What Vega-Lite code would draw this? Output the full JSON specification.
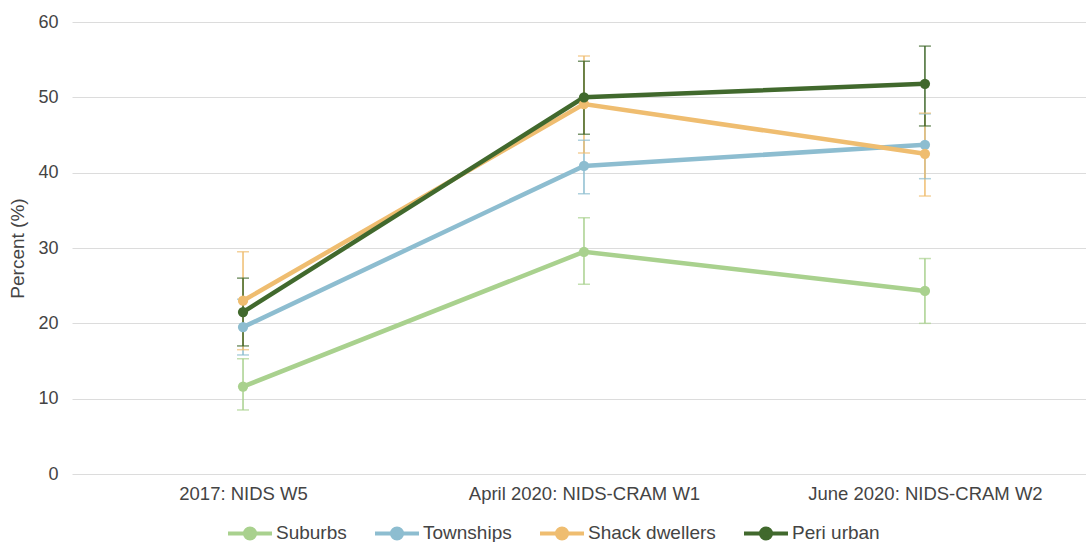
{
  "$schema": "https://vega.github.io/schema/vega-lite/v6.json",
  "width": 1014,
  "height": 452,
  "autosize": {"type": "none"},
  "padding": {"left": 72, "top": 22, "right": 0, "bottom": 68},
  "background": "white",
  "config": {
    "font": "Liberation Sans",
    "view": {"stroke": null},
    "axis": {"labelColor": "#444", "titleColor": "#444", "labelFont": "Liberation Sans", "titleFont": "Liberation Sans"}
  },
  "data": {
    "values": [
      {"wave": "2017: NIDS W5", "group": "Suburbs", "value": 11.6, "lo": 8.5, "hi": 15.3},
      {"wave": "April 2020: NIDS-CRAM W1", "group": "Suburbs", "value": 29.5, "lo": 25.2, "hi": 34.0},
      {"wave": "June 2020: NIDS-CRAM W2", "group": "Suburbs", "value": 24.3, "lo": 20.0, "hi": 28.6},
      {"wave": "2017: NIDS W5", "group": "Townships", "value": 19.5, "lo": 15.8, "hi": 23.2},
      {"wave": "April 2020: NIDS-CRAM W1", "group": "Townships", "value": 40.9, "lo": 37.2, "hi": 44.3},
      {"wave": "June 2020: NIDS-CRAM W2", "group": "Townships", "value": 43.7, "lo": 39.2, "hi": 47.8},
      {"wave": "2017: NIDS W5", "group": "Shack dwellers", "value": 23.0, "lo": 16.5, "hi": 29.5},
      {"wave": "April 2020: NIDS-CRAM W1", "group": "Shack dwellers", "value": 49.1, "lo": 42.6, "hi": 55.5},
      {"wave": "June 2020: NIDS-CRAM W2", "group": "Shack dwellers", "value": 42.5, "lo": 36.9, "hi": 47.9},
      {"wave": "2017: NIDS W5", "group": "Peri urban", "value": 21.5, "lo": 17.0, "hi": 26.0},
      {"wave": "April 2020: NIDS-CRAM W1", "group": "Peri urban", "value": 50.0, "lo": 45.1, "hi": 54.8},
      {"wave": "June 2020: NIDS-CRAM W2", "group": "Peri urban", "value": 51.8, "lo": 46.2, "hi": 56.8}
    ]
  },
  "encoding": {
    "x": {
      "field": "wave", "type": "ordinal", "sort": null,
      "scale": {"type": "point", "padding": 0.487, "align": 0.515},
      "axis": {"title": null, "labelAngle": 0, "labelFontSize": 18.5, "labelLimit": 400, "ticks": false, "domain": false, "labelPadding": 10, "grid": false}
    },
    "color": {
      "field": "group", "type": "nominal",
      "scale": {"domain": ["Suburbs", "Townships", "Shack dwellers", "Peri urban"], "range": ["#a9d18e", "#8dbdd0", "#efbd70", "#41692d"]},
      "legend": {
        "orient": "none", "direction": "horizontal", "legendX": 154, "legendY": 487,
        "title": null, "labelFontSize": 19, "labelColor": "#444", "labelOffset": 2, "labelLimit": 300,
        "symbolType": "M -1 0 L 1 0 M 0.23 0 A 0.23 0.23 0 1 1 -0.23 0 A 0.23 0.23 0 1 1 0.23 0 Z",
        "symbolSize": 1936, "symbolStrokeWidth": 4, "columnPadding": 20,
        "encode": {"symbols": {"update": {"fill": {"scale": "color", "field": "value"}, "stroke": {"scale": "color", "field": "value"}, "opacity": {"value": 1}}}}
      }
    }
  },
  "layer": [
    {
      "mark": {"type": "rule", "strokeWidth": 1.5},
      "encoding": {
        "y": {"field": "lo", "type": "quantitative"},
        "y2": {"field": "hi"}
      }
    },
    {
      "mark": {"type": "tick", "orient": "horizontal", "size": 12, "thickness": 1.5},
      "encoding": {"y": {"field": "lo", "type": "quantitative"}}
    },
    {
      "mark": {"type": "tick", "orient": "horizontal", "size": 12, "thickness": 1.5},
      "encoding": {"y": {"field": "hi", "type": "quantitative"}}
    },
    {
      "mark": {"type": "line", "strokeWidth": 4.5},
      "encoding": {
        "y": {
          "field": "value", "type": "quantitative",
          "scale": {"domain": [0, 60]},
          "axis": {"title": "Percent (%)", "titleFontSize": 19, "titleFontWeight": "normal", "titlePadding": 10, "labelFontSize": 18, "ticks": false, "domain": false, "labelPadding": 14, "tickCount": 6, "gridColor": "#dcdcdc", "gridWidth": 1}
        }
      }
    },
    {
      "mark": {"type": "point", "filled": true, "size": 105, "opacity": 1},
      "encoding": {"y": {"field": "value", "type": "quantitative"}}
    }
  ]
}
